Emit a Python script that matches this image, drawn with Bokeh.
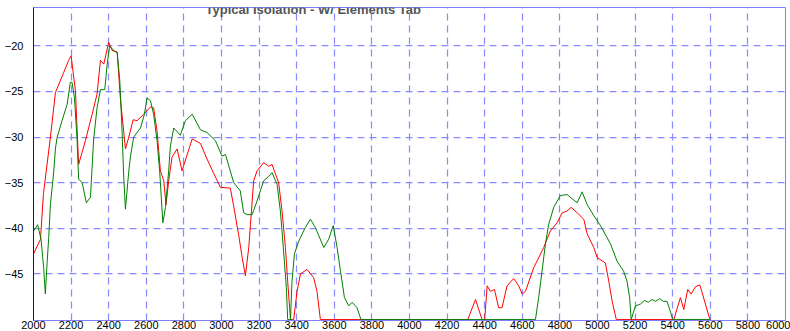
from bokeh.plotting import figure
from bokeh.models import Range1d, FixedTicker, Label
from bokeh.embed import file_html
from bokeh.resources import INLINE

TITLE = "Typical Isolation - W/ Elements Tab"
X_MIN, X_MAX = 2000, 6000
Y_MIN, Y_MAX = -50.1, -15.8
X_TICKS = list(range(2000, 6001, 200))
Y_TICKS = [-45, -40, -35, -30, -25, -20]

red_freq = [2000, 2037, 2053, 2081, 2090, 2117, 2161, 2187, 2200, 2223, 2240, 2276,
            2312, 2338, 2356, 2374, 2400, 2418, 2445, 2462, 2489, 2507, 2530, 2551,
            2586, 2622, 2639, 2657, 2675, 2693, 2705, 2719, 2737, 2764, 2790, 2844,
            2888, 2923, 2959, 2994, 3047, 3065, 3092, 3110, 3127, 3145, 3154, 3171,
            3189, 3224, 3251, 3269, 3304, 3322, 3340, 3352, 3367, 3384, 3402, 3420,
            3455, 3490, 3508, 3526, 4310, 4351, 4386, 4400, 4413, 4430, 4452, 4474,
            4492, 4519, 4554, 4581, 4599, 4617, 4661, 4714, 4749, 4785, 4812, 4838,
            4860, 4892, 4927, 4945, 4980, 4998, 5042, 5060, 5078, 5100, 5406, 5441,
            5459, 5480, 5498, 5521, 5544, 5556, 5574, 5592, 5600]
red_db = [-42.8, -41.2, -36.2, -31.5, -30.0, -25.1, -22.9, -21.6, -21.1, -24.9, -33.0, -30.4,
          -27.5, -25.3, -21.6, -22.0, -19.6, -20.5, -20.7, -25.7, -31.3, -30.0, -28.1, -28.2,
          -27.5, -26.7, -26.8, -29.3, -33.7, -34.8, -37.4, -34.8, -32.2, -31.3, -33.7, -30.2,
          -30.7, -32.4, -34.0, -35.5, -35.6, -37.6, -40.8, -43.2, -45.2, -42.1, -39.6, -34.8,
          -33.7, -32.8, -33.2, -33.0, -35.0, -38.1, -42.1, -45.8, -50.0, -50.0, -46.9, -45.0,
          -44.5, -45.4, -46.9, -50.0, -50.0, -47.8, -50.0, -50.0, -46.3, -46.9, -46.7, -48.7,
          -48.7, -46.3, -45.5, -46.3, -47.2, -46.9, -44.3, -42.1, -40.3, -39.4, -38.3, -38.1,
          -37.7, -38.3, -39.0, -40.6, -42.1, -43.2, -43.8, -45.8, -48.0, -50.0, -50.0, -47.6,
          -48.9, -46.7, -47.2, -46.4, -46.2, -47.0, -48.3, -49.6, -50.0]

green_freq = [2000, 2022, 2040, 2054, 2063, 2072, 2081, 2090, 2108, 2117, 2126, 2152,
              2179, 2196, 2205, 2218, 2232, 2240, 2259, 2281, 2303, 2320, 2338, 2356,
              2379, 2392, 2405, 2426, 2445, 2459, 2471, 2480, 2489, 2507, 2516, 2533,
              2569, 2590, 2604, 2622, 2639, 2657, 2671, 2688, 2702, 2719, 2728, 2746,
              2781, 2808, 2844, 2888, 2923, 2968, 3003, 3021, 3065, 3100, 3118, 3136,
              3163, 3189, 3224, 3251, 3269, 3296, 3313, 3322, 3345, 3352, 3367, 3375,
              3388, 3411, 3446, 3473, 3499, 3544, 3570, 3594, 3615, 3633, 3654, 3677,
              3695, 3721, 3742, 4670, 4687, 4705, 4723, 4740, 4767, 4803, 4838, 4892,
              4918, 4945, 4980, 5016, 5069, 5104, 5139, 5157, 5171, 5179, 5202, 5228,
              5250, 5270, 5290, 5310, 5330, 5350, 5370, 5389, 5400, 5600]
green_db = [-40.3, -39.6, -41.2, -44.3, -47.2, -43.9, -41.0, -37.4, -33.7, -31.2, -30.0, -28.2,
            -26.4, -24.0, -24.0, -25.7, -30.4, -34.6, -35.0, -37.2, -36.6, -30.2, -26.8, -24.8,
            -24.8, -22.0, -20.0, -20.5, -20.7, -23.8, -29.3, -34.4, -37.9, -33.7, -32.1, -30.0,
            -29.0, -27.5, -25.7, -26.0, -27.5, -30.4, -33.7, -39.4, -37.7, -33.7, -31.0, -29.0,
            -29.8, -28.2, -27.5, -29.2, -29.5, -30.4, -32.1, -31.9, -35.0, -35.9, -38.3, -38.5,
            -38.5, -37.0, -34.8, -34.3, -33.9, -35.2, -38.1, -40.3, -46.5, -50.0, -50.0, -45.8,
            -42.8, -41.4, -39.9, -39.0, -39.9, -42.1, -41.2, -39.7, -42.1, -44.7, -47.6, -48.5,
            -48.1, -48.7, -50.0, -50.0, -47.6, -44.7, -41.7, -39.6, -37.7, -36.4, -36.3, -37.2,
            -36.0, -37.4, -38.6, -39.7, -41.7, -43.6, -44.7, -45.8, -47.6, -50.0, -48.5, -48.3,
            -47.9, -48.1, -47.8, -48.0, -47.7, -48.0, -48.0, -49.2, -50.0, -50.0]

p = figure(width=790, height=331, output_backend="svg", toolbar_location=None,
           x_range=Range1d(X_MIN, X_MAX), y_range=Range1d(Y_MIN, Y_MAX),
           min_border_left=33, min_border_right=5, min_border_top=7, min_border_bottom=0)

p.background_fill_color = "white"
p.border_fill_color = "white"
p.outline_line_color = "#8080ff"
p.outline_line_alpha = 1.0

p.xaxis.ticker = FixedTicker(ticks=X_TICKS)
p.yaxis.ticker = FixedTicker(ticks=Y_TICKS)
for ax in (p.xaxis, p.yaxis):
    ax.major_tick_line_color = None
    ax.minor_tick_line_color = None
    ax.major_tick_out = 0
    ax.major_tick_in = 0
    ax.minor_tick_out = 0
    ax.minor_tick_in = 0
    ax.major_label_text_font = "Liberation Sans"
    ax.major_label_text_font_size = "11px"
    ax.major_label_text_color = "#000000"
p.xaxis.major_label_standoff = 0
p.yaxis.major_label_standoff = 10
p.xaxis.axis_line_color = "#8080ff"
p.yaxis.axis_line_color = "#0000ff"

for g in (p.xgrid, p.ygrid):
    g.grid_line_color = "#8a8aff"
    g.grid_line_alpha = 1.0
    g.grid_line_dash = "7 5"
    g.grid_line_width = 1.25

p.line(red_freq, red_db, line_color="#ff0000", line_width=1)
p.line(green_freq, green_db, line_color="#008000", line_width=1)

title = Label(x=172, x_units="screen", y=Y_MAX, y_units="data", y_offset=6,
              text=TITLE, text_font="Liberation Sans", text_font_size="13px",
              text_font_style="bold", text_color="#555555", text_baseline="top")
p.add_layout(title)

open("out.html", "w").write(file_html(p, INLINE))
